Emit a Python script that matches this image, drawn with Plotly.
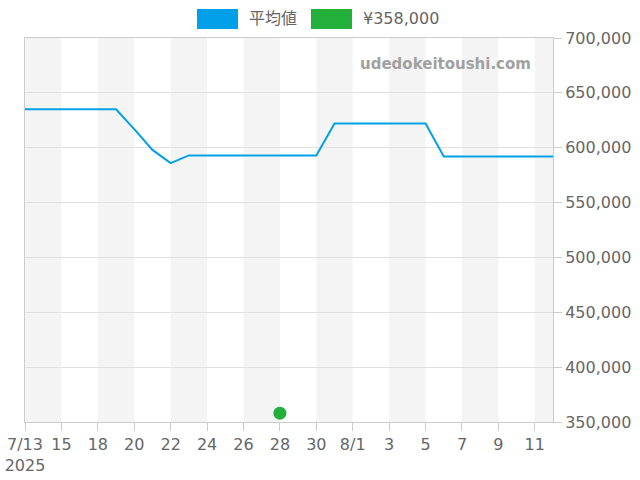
import pandas as pd
import plotly.graph_objects as go

# dates with price data (7/17 has no record)
dates = ["2025-07-13", "2025-07-14", "2025-07-15", "2025-07-16", "2025-07-18",
         "2025-07-19", "2025-07-20", "2025-07-21", "2025-07-22", "2025-07-23",
         "2025-07-24", "2025-07-25", "2025-07-26", "2025-07-27", "2025-07-28",
         "2025-07-29", "2025-07-30", "2025-07-31", "2025-08-01", "2025-08-02",
         "2025-08-03", "2025-08-04", "2025-08-05", "2025-08-06", "2025-08-07",
         "2025-08-08", "2025-08-09", "2025-08-10", "2025-08-11", "2025-08-12"]
avg_price = [635000, 635000, 635000, 635000, 635000, 635000, 617000, 598000, 586000, 593000,
             593000, 593000, 593000, 593000, 593000, 593000, 593000, 622000, 622000, 622000,
             622000, 622000, 622000, 592000, 592000, 592000, 592000, 592000, 592000, 592000]
sale_date = ["2025-07-28"]
sale_price = [358000]

series_names = ["平均値", "¥358,000"]
blue, green = "#00a0e9", "#22b03a"
grey = "#666666"

# tick labels: every second date, month shown on first tick and on the 1st
dt = pd.to_datetime(dates)
tickvals, ticktext = [], []
for i in range(0, len(dates), 2):
    d = dt[i]
    if i == 0:
        label = f"{d.month}/{d.day}<br>{d.year}"
    elif d.day == 1:
        label = f"{d.month}/{d.day}"
    else:
        label = str(d.day)
    tickvals.append(dates[i])
    ticktext.append(label)

fig = go.Figure()
fig.add_trace(go.Scatter(x=dates, y=avg_price, mode="lines", name=series_names[0],
                         line=dict(color=blue, width=2), showlegend=False))
fig.add_trace(go.Scatter(x=sale_date, y=sale_price, mode="markers", name=series_names[1],
                         marker=dict(color=green, size=13), showlegend=False,
                         cliponaxis=False))

# alternating background bands, two dates wide
for i in range(0, len(dates), 4):
    fig.add_shape(type="rect", xref="x", yref="paper", x0=i, x1=min(i + 2, len(dates) - 1),
                  y0=0, y1=1, fillcolor="#f4f4f4", line_width=0, layer="below")

# legend drawn by hand (wide colour boxes)
legend_items = [(series_names[0], blue, 197, 238, 247), (series_names[1], green, 311, 352, 361)]
for name, col, bx0, bx1, tx in legend_items:
    fig.add_shape(type="rect", xref="paper", yref="paper",
                  x0=(bx0 - 25) / 528, x1=(bx1 - 25) / 528,
                  y0=(422 - 29) / 384, y1=(422 - 9) / 384,
                  fillcolor=col, line_width=0)
    fig.add_annotation(text=name, xref="paper", yref="paper", x=(tx - 25) / 528,
                       y=(422 - 19) / 384, xanchor="left", yanchor="middle",
                       showarrow=False, font=dict(size=16, color=grey))

fig.add_annotation(text="<b>udedokeitoushi.com</b>", xref="paper", yref="paper",
                   x=(533 - 25) / 528, y=(422 - 64) / 384, xanchor="right", yanchor="middle",
                   showarrow=False, font=dict(size=15, color="#a0a0a0"))

fig.update_xaxes(type="category", categoryorder="array", categoryarray=dates,
                 range=[0, len(dates) - 1], tickvals=tickvals, ticktext=ticktext,
                 ticks="outside", ticklen=8, tickcolor="#cccccc", showgrid=False,
                 showline=True, linecolor="#cccccc", mirror=True, automargin=False,
                 tickfont=dict(size=16, color=grey))
fig.update_yaxes(side="right", range=[350000, 700000], dtick=50000, tickformat=",",
                 ticks="outside", ticklen=8, tickcolor="#cccccc",
                 showgrid=True, gridcolor="#e0e0e0", zeroline=False,
                 showline=True, linecolor="#cccccc", mirror=True, automargin=False,
                 tickfont=dict(size=16, color=grey))
fig.update_layout(width=640, height=480, margin=dict(l=25, r=87, t=38, b=58),
                  plot_bgcolor="white", paper_bgcolor="white",
                  font=dict(family="DejaVu Sans, Noto Sans CJK JP", color=grey))
# drop the default page margin so the figure sits at the window corner
fig.write_html("out.html", config={"displayModeBar": False},
               post_script="document.body.style.margin = '0';")
